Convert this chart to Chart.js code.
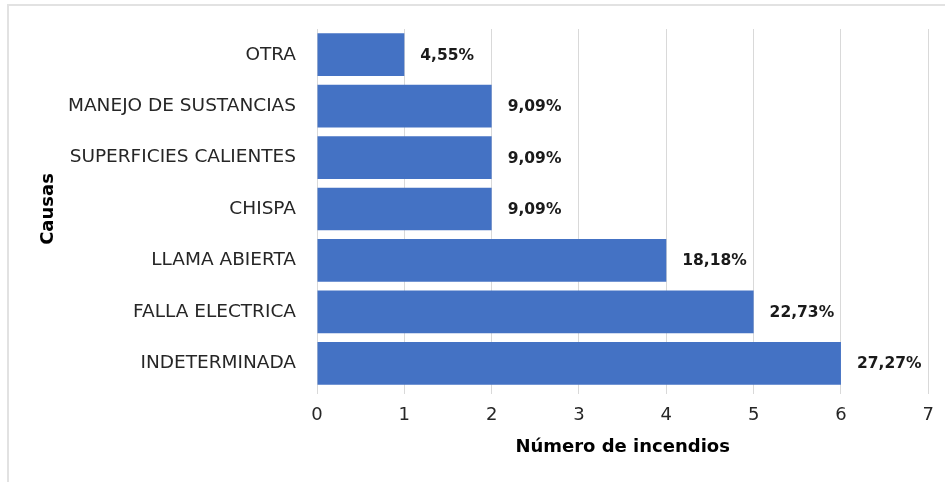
<!DOCTYPE html>
<html>
<head>
<meta charset="utf-8">
<script src="https://cdn.jsdelivr.net/npm/chart.js@4.4.1/dist/chart.umd.min.js"></script>
<style>
  html, body { margin: 0; padding: 0; background: #fff; overflow: hidden; }
  #wrap { position: relative; width: 945px; height: 482px; }
  #myChart { position: absolute; left: 0; top: 0; }
  #frame { position: absolute; left: 7px; top: 4px; width: 960px; height: 500px;
           border-left: 2px solid #e2e2e2; border-top: 2px solid #e2e2e2; pointer-events: none; }
</style>
</head>
<body>
<div id="wrap">
  <canvas id="myChart" width="945" height="482"></canvas>
  <div id="frame"></div>
</div>
<script>
const causas = ['OTRA', 'MANEJO DE SUSTANCIAS', 'SUPERFICIES CALIENTES', 'CHISPA', 'LLAMA ABIERTA', 'FALLA ELECTRICA', 'INDETERMINADA'];
const incendios = [1, 2, 2, 2, 4, 5, 6];
const porcentajes = ['4,55%', '9,09%', '9,09%', '9,09%', '18,18%', '22,73%', '27,27%'];
const xTicks = [0, 1, 2, 3, 4, 5, 6, 7];

const fontFam = '"DejaVu Sans", sans-serif';

// draw the percentage next to each bar end
const barLabels = {
    id: 'barLabels',
    afterDatasetsDraw(chart) {
        const ctx = chart.ctx;
        const meta = chart.getDatasetMeta(0);
        ctx.save();
        ctx.font = 'bold 15.5px ' + fontFam;
        ctx.fillStyle = '#1a1a1a';
        ctx.textAlign = 'left';
        ctx.textBaseline = 'middle';
        meta.data.forEach(function(bar, i) {
            ctx.fillText(porcentajes[i], bar.x + 16, bar.y + 1);
        });
        ctx.restore();
    }
};

const ctx = document.getElementById('myChart').getContext('2d');
const myChart = new Chart(ctx, {
    type: 'bar',
    data: {
        labels: causas,
        datasets: [{
            data: incendios,
            backgroundColor: '#4472C4',
            borderWidth: 0,
            barPercentage: 0.83,
            categoryPercentage: 1
        }]
    },
    options: {
        indexAxis: 'y',
        responsive: false,
        animation: false,
        layout: { padding: { top: 29, right: 12, left: 0, bottom: 0 } },
        plugins: {
            legend: { display: false },
            tooltip: { enabled: false }
        },
        scales: {
            x: {
                min: 0,
                max: 7,
                afterBuildTicks(scale) {
                    scale.ticks = xTicks.map(v => ({ value: v }));
                },
                afterFit(scale) { scale.height = 93; },
                grid: { color: '#d9d9d9', tickLength: 5, drawTicks: true },
                border: { display: false },
                ticks: {
                    color: '#262626',
                    padding: 11,
                    font: { family: fontFam, size: 18 }
                },
                title: {
                    display: true,
                    text: 'Número de incendios',
                    color: '#000',
                    font: { family: fontFam, size: 18, weight: 'bold' },
                    padding: { top: 0, bottom: 24 }
                }
            },
            y: {
                afterFit(scale) { scale.width = 317; },
                grid: { display: false },
                border: { display: false },
                ticks: {
                    color: '#262626',
                    padding: 13,
                    font: { family: fontFam, size: 18.5 }
                },
                title: {
                    display: true,
                    text: 'Causas',
                    color: '#000',
                    font: { family: fontFam, size: 18, weight: 'bold' },
                    padding: { top: 38, bottom: 0 }
                }
            }
        }
    },
    plugins: [barLabels]
});
</script>
</body>
</html>
